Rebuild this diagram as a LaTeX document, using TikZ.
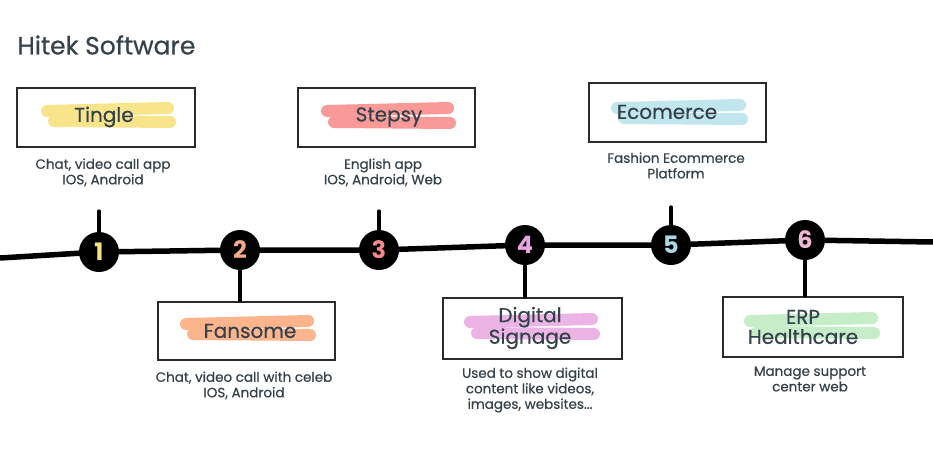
\documentclass[tikz,border=0pt]{standalone}
\usepackage{fontspec}
\setmainfont{Poppins}
\newfontfamily\inkfont[FakeBold=0.6]{Poppins}
\begin{document}
\begin{tikzpicture}[x=1pt,y=-1pt,
  title/.style={font=\inkfont\fontsize{25}{28}\selectfont, text=inkc, anchor=west},
  card/.style={draw=boxc, line width=2.3pt, minimum width=#1, inner sep=0pt},
  cardlabel/.style={font=\inkfont\fontsize{20}{20}\selectfont, text=inkc, align=center},
  desc/.style={font=\inkfont\fontsize{13.5}{15.5}\selectfont, text=inkc, align=center},
  numdot/.style={circle, fill=black, minimum size=40pt, inner sep=0pt, font=\bfseries\fontsize{24}{24}\selectfont},
  timeline/.style={line width=5.5pt, black, line join=round},
  stem/.style={line width=3.2pt, black, line cap=round},
  hl/.style={line width=12pt, line cap=round},
]
\definecolor{inkc}{HTML}{34424C}
\definecolor{boxc}{HTML}{2A2A2A}
\definecolor{hyel}{HTML}{F8E48A}
\definecolor{hsal}{HTML}{F99A98}
\definecolor{hpea}{HTML}{FBB48C}
\definecolor{hpin}{HTML}{EBB4E5}
\definecolor{hblu}{HTML}{C2E6EE}
\definecolor{hgre}{HTML}{C4EDC8}
\definecolor{nyel}{HTML}{F6E27C}
\definecolor{npea}{HTML}{F7A98B}
\definecolor{nsal}{HTML}{F48A8A}
\definecolor{npin}{HTML}{E9A6E3}
\definecolor{nblu}{HTML}{A9DBE6}
\definecolor{npi6}{HTML}{F1B5D8}

\useasboundingbox[fill=white] (0,0) rectangle (933,460);

\node[title] (title) at (14,45) {Hitek Software};

% highlighter strokes
\draw[hl, hyel] (47,111) -- (168,108);
\draw[hl, hyel] (54,121) -- (170,122);
\draw[hl, hsal] (327,111) -- (448,108);
\draw[hl, hsal] (334,122) -- (450,123);
\draw[hl, hpea] (186,324) -- (308,321);
\draw[hl, hpea] (193,334) -- (310,335);
\draw[hl, hpin] (470,322) -- (592,319);
\draw[hl, hpin] (477,333) -- (594,334);
\draw[hl, hblu] (617,108) -- (740,105);
\draw[hl, hblu] (624,118) -- (742,119);
\draw[hl, hgre] (750,321) -- (872,318);
\draw[hl, hgre] (757,332) -- (874,333);

% cards
\node[card=178pt, minimum height=59pt] (b1) at (106,117.5) {};
\node[card=177pt, minimum height=59pt] (b3) at (386.5,117.5) {};
\node[card=177pt, minimum height=59pt] (b5) at (677.5,112.5) {};
\node[card=177pt, minimum height=58pt] (b2) at (246.5,331) {};
\node[card=179pt, minimum height=61pt] (b4) at (532.5,328.5) {};
\node[card=180pt, minimum height=60pt] (b6) at (813,327) {};

\node[cardlabel] (l1) at (104,117) {Tingle};
\node[cardlabel] (l3) at (389,117) {Stepsy};
\node[cardlabel] (l5) at (667,112) {Ecomerce};
\node[cardlabel] (l2) at (250,331) {Fansome};
\node[cardlabel] (l4) at (530,328) {Digital\\Signage};
\node[cardlabel] (l6) at (803,327) {ERP\\Healthcare};

% descriptions
\node[desc, anchor=north] (d1) at (103,155) {Chat, video call app\\IOS, Android};
\node[desc, anchor=north] (d3) at (383,155) {English app\\IOS, Android, Web};
\node[desc, anchor=north] (d5) at (676,149) {Fashion Ecommerce\\Platform};
\node[desc, anchor=north] (d2) at (244,368) {Chat, video call with celeb\\IOS, Android};
\node[desc, anchor=north] (d4) at (530,364) {Used to show digital\\content like videos,\\images, websites...};
\node[desc, anchor=north] (d6) at (810,363) {Manage support\\center web};

% timeline
\coordinate (L) at (0,258);
\coordinate (R) at (933,242);
\coordinate (p1) at (99,252);
\coordinate (p2) at (240,250);
\coordinate (p3) at (379,250);
\coordinate (p4) at (525,245);
\coordinate (p5) at (671,245);
\coordinate (p6) at (805,240);
\draw[timeline] (L) -- (p1) -- (p2) -- (p3) -- (p4) -- (p5) -- (p6) -- (R);

\coordinate (t1) at (99,211);
\coordinate (t3) at (379,211);
\coordinate (t5) at (671,207);

\node[numdot, text=nyel] (c1) at (p1) {1};
\node[numdot, text=npea] (c2) at (p2) {2};
\node[numdot, text=nsal] (c3) at (p3) {3};
\node[numdot, text=npin] (c4) at (p4) {4};
\node[numdot, text=nblu] (c5) at (p5) {5};
\node[numdot, text=npi6] (c6) at (p6) {6};

\draw[stem] (c1.north) -- (t1);
\draw[stem] (c3.north) -- (t3);
\draw[stem] (c5.north) -- (t5);
\draw[stem] (c2.south) -- (b2.north -| c2.south);
\draw[stem] (c4.south) -- (b4.north -| c4.south);
\draw[stem] (c6.south) -- (b6.north -| c6.south);
\end{tikzpicture}
\end{document}
